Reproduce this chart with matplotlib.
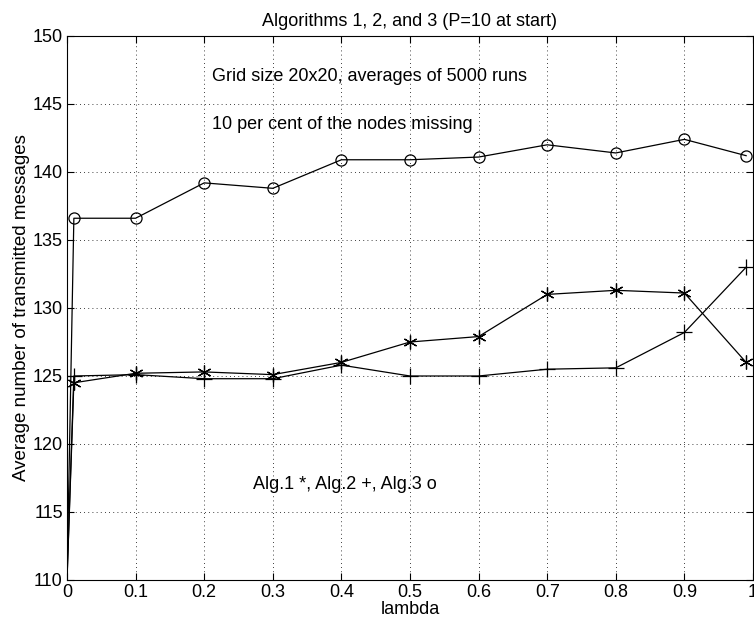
import matplotlib
matplotlib.use("Agg")
import matplotlib.pyplot as plt
import numpy as np

plt.rcParams["font.family"] = ["Liberation Sans", "DejaVu Sans"]

lam = [0.0, 0.01, 0.1, 0.2, 0.3, 0.4, 0.5, 0.6, 0.7, 0.8, 0.9, 0.99]
alg1 = [110.0, 124.5, 125.2, 125.3, 125.1, 126.0, 127.5, 127.9, 131.0, 131.3, 131.1, 126.0]
alg2 = [110.0, 125.0, 125.1, 124.8, 124.8, 125.8, 125.0, 125.0, 125.5, 125.6, 128.2, 133.0]
alg3 = [110.0, 136.6, 136.6, 139.2, 138.8, 140.9, 140.9, 141.1, 142.0, 141.4, 142.4, 141.2]

xticks = np.round(np.arange(0, 1.01, 0.1), 1)
xticklabels = ["0", "0.1", "0.2", "0.3", "0.4", "0.5", "0.6", "0.7", "0.8", "0.9", "1"]
yticks = list(range(110, 151, 5))

fig = plt.figure(figsize=(7.54, 6.26), dpi=100)
ax = fig.add_axes([67 / 754, 1 - 580 / 626, 686 / 754, 544 / 626])

common = dict(color="black", linewidth=0.9, markevery=slice(1, None),
              markerfacecolor="none", markeredgecolor="black", clip_on=True)
ax.plot(lam, alg1, marker=(6, 2, 0), markersize=10, markeredgewidth=0.9, **common)
ax.plot(lam, alg2, marker="+", markersize=11, markeredgewidth=0.9, **common)
ax.plot(lam, alg3, marker="o", markersize=8, markeredgewidth=0.9, **common)

ax.set_xlim(0, 1)
ax.set_ylim(110, 150)
ax.set_xticks(xticks)
ax.set_xticklabels(xticklabels)
ax.set_yticks(yticks)
ax.tick_params(direction="in", top=True, right=True, labelsize=13, length=5, width=0.8, pad=3)
ax.grid(True, color="black", linestyle=(0, (1, 4)), linewidth=0.6)
for s in ax.spines.values():
    s.set_linewidth(0.8)

ax.set_title("Algorithms 1, 2, and 3 (P=10 at start)", fontsize=13, pad=7)
ax.set_xlabel("lambda", fontsize=13, labelpad=0)
ax.set_ylabel("Average number of transmitted messages", fontsize=13.5, labelpad=2)

ax.text(0.211, 147.0, "Grid size 20x20, averages of 5000 runs", fontsize=13, va="center")
ax.text(0.211, 143.5, "10 per cent of the nodes missing", fontsize=13, va="center")
ax.text(0.271, 117.0, "Alg.1 *, Alg.2 +, Alg.3 o", fontsize=13, va="center")

fig.savefig("out.png", dpi=100)
plt.close(fig)
